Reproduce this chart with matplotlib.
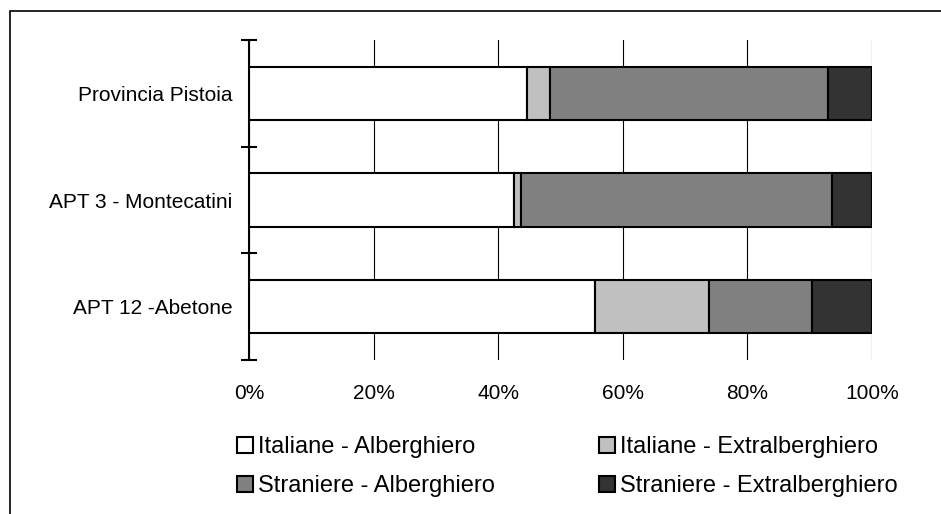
import numpy as np
import matplotlib
matplotlib.use("Agg")
import matplotlib.pyplot as plt
from matplotlib.patches import Rectangle

plt.rcParams['font.family'] = ['Liberation Sans', 'DejaVu Sans']

# quote percentuali per area
areas = ['Provincia Pistoia', 'APT 3 - Montecatini', 'APT 12 -Abetone']
series = ['Italiane - Alberghiero', 'Italiane - Extralberghiero',
          'Straniere - Alberghiero', 'Straniere - Extralberghiero']
ita_alb = [44.6, 42.5, 55.6]
ita_extra = [3.7, 1.1, 18.2]
str_alb = [44.7, 49.9, 16.6]
str_extra = [7.0, 6.5, 9.6]
ticks_pct = [0, 20, 40, 60, 80, 100]

colors = ['#FFFFFF', '#C0C0C0', '#808080', '#333333']

fig = plt.figure(figsize=(9.41, 5.14), dpi=100)
ax = fig.add_axes([249 / 941, 1 - 360 / 514, 623 / 941, 320 / 514])

y = np.arange(len(areas))
left = np.zeros(len(areas))
bars = []
for vals, name, col in zip([ita_alb, ita_extra, str_alb, str_extra], series, colors):
    b = ax.barh(y, vals, left=left, height=0.5, color=col,
                edgecolor='black', linewidth=1.5, label=name, zorder=3)
    bars.append(b)
    left = left + np.array(vals)

ax.set_xlim(0, 100)
ax.set_ylim(2.5, -0.5)

ax.set_xticks(ticks_pct)
ax.set_xticklabels([f'{t}%' for t in ticks_pct])
ax.tick_params(axis='x', length=0, pad=17, labelsize=15)
ax.xaxis.grid(True, color='black', linewidth=0.8, zorder=1)

# tacche sui confini delle categorie, etichette al centro
ax.set_yticks([-0.5, 0.5, 1.5, 2.5])
ax.set_yticklabels([])
ax.set_yticks(y, minor=True)
ax.set_yticklabels(areas, minor=True)
ax.tick_params(axis='y', which='major', direction='inout', length=11.5, width=1.5)
ax.tick_params(axis='y', which='minor', length=0, pad=12, labelsize=15)

for s in ['top', 'right', 'bottom']:
    ax.spines[s].set_visible(False)
ax.spines['left'].set_linewidth(1.5)
ax.spines['left'].set_zorder(4)

handles = [bars[0], bars[2], bars[1], bars[3]]
labels = [series[0], series[2], series[1], series[3]]
fig.legend(handles, labels, ncol=2, loc='upper left',
           bbox_to_anchor=(237 / 941, 1 - 436 / 514), frameon=False,
           fontsize=17, borderpad=0, borderaxespad=0,
           handlelength=0.68, handleheight=0.68, handletextpad=0.21,
           labelspacing=0.72, columnspacing=4.4)

# cornice esterna
fig.patches.append(Rectangle((10 / 941, -0.1), 1.2, 1 - 11 / 514 + 0.1,
                             transform=fig.transFigure, fill=False,
                             edgecolor='black', linewidth=1.2))

fig.savefig('out.png', dpi=100)
